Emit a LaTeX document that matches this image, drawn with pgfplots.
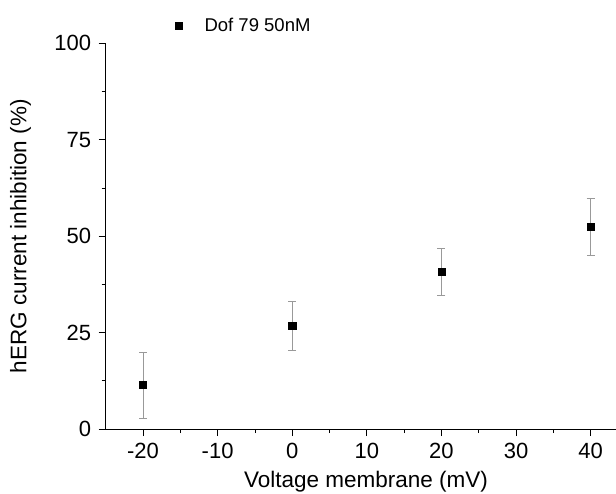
\documentclass[border=0pt]{standalone}
\usepackage{pgfplots}
\pgfplotsset{compat=1.18}
\usepackage{pgfplotstable}
\usepackage{fontspec}
\setmainfont{Liberation Sans}

\pgfplotstableread{
x y e
-20 11.4 8.6
0 26.8 6.3
20 40.8 6.1
40 52.4 7.4
}\dataDof

\begin{document}
\begin{tikzpicture}
\begin{axis}[
  scale only axis,
  width=510.3pt, height=385.7pt,
  at={(0pt,0pt)}, anchor=south west,
  xmin=-25, xmax=43.4, ymin=0, ymax=100,
  axis lines=left,
  axis line style={-, line width=1pt, black},
  xtick={-20,-10,...,40}, minor x tick num=1,
  ytick={0,25,...,100}, minor y tick num=1,
  tick align=outside,
  major tick length=7pt, minor tick length=4pt,
  tick style={black, line width=0.8pt},
  /pgf/number format/assume math mode=true,
  ticklabel style={font=\fontsize{22}{26}\selectfont},
  yticklabel style={xshift=-4pt},
  xticklabel style={yshift=-4pt},
  xlabel={Voltage membrane (mV)},
  ylabel={hERG current inhibition (\%)},
  label style={font=\fontsize{22.5}{26}\selectfont},
  xlabel style={at={(axis description cs:0.51,0)}, anchor=base, yshift=-58pt},
  ylabel style={at={(axis description cs:-0.167,0.5)}, anchor=center},
  legend style={at={(axis description cs:0.125,1.045)}, anchor=west, draw=none, fill=none,
    inner sep=0pt, font=\fontsize{18.5}{22}\selectfont},
  legend image code/.code={\path (0pt,0pt) (32.5pt,0pt);
    \draw[mark=square*, mark size=3.4pt, black] plot coordinates {(8.5pt,0pt)};},
]
\addplot[only marks, mark=square*, mark size=3.65pt, black,
  error bars/.cd, y dir=both, y explicit,
  error bar style={gray!80, line width=0.7pt},
  error mark options={rotate=90, mark size=4pt, gray!80, line width=0.7pt}]
  table[x=x, y=y, y error=e] {\dataDof};
\addlegendentry{Dof 79 50nM}
\end{axis}
\pgfresetboundingbox
\path (-105.7pt,-64pt) rectangle (510.3pt,429pt);
\end{tikzpicture}
\end{document}
